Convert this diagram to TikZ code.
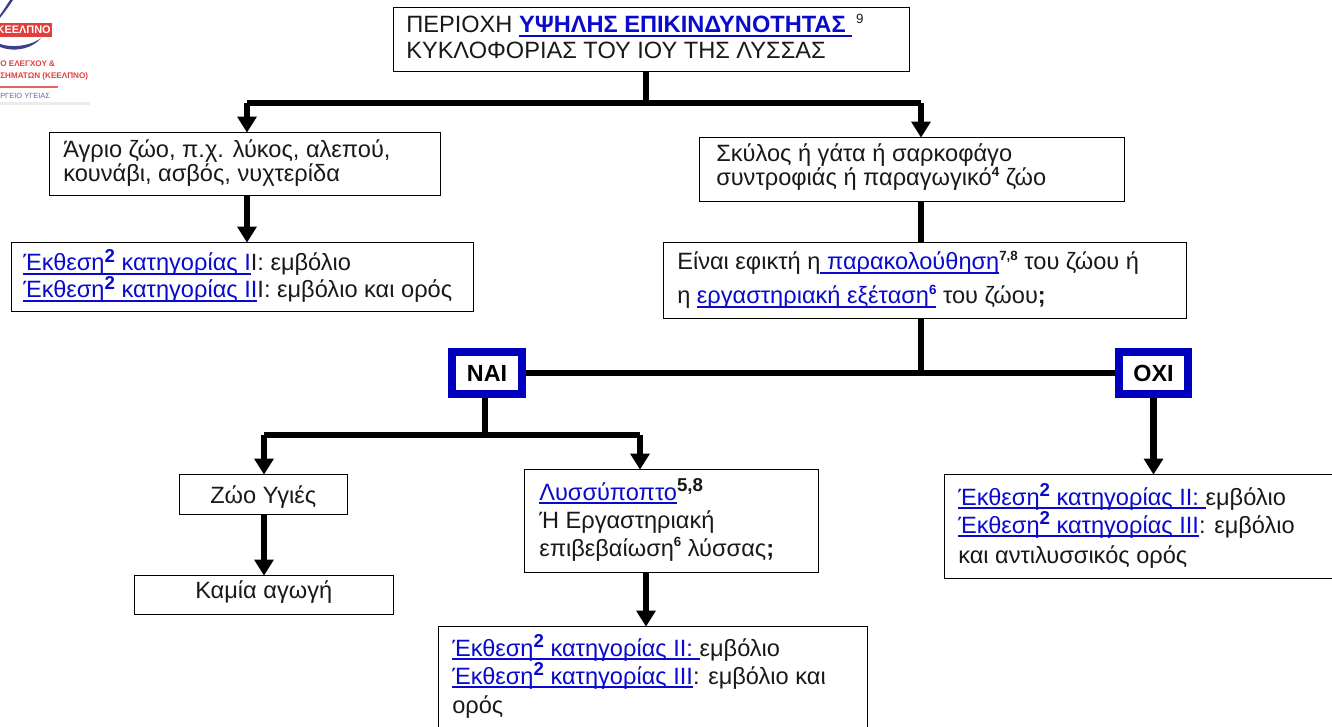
\documentclass[tikz,border=0pt]{standalone}
\usepackage{fontspec}
\setmainfont{Liberation Sans}
\usetikzlibrary{arrows.meta}
\definecolor{linkblue}{RGB}{10,10,205}
\definecolor{nblue}{RGB}{0,0,190}
\definecolor{logored}{RGB}{226,62,62}
\definecolor{logoblue}{RGB}{62,62,140}
\newsavebox\lnkbox
\newcommand\lnk[1]{\sbox\lnkbox{\color{linkblue}#1}\textcolor{linkblue}{\rlap{\rule[-3pt]{\wd\lnkbox}{1.2pt}}}\usebox\lnkbox}
\newcommand\sps[1]{\raisebox{0.42em}{\fontsize{10}{10}\selectfont\bfseries #1}}
\newcommand\spb[1]{\raisebox{0.36em}{\fontsize{14}{14}\selectfont\bfseries #1}}
\newcommand\spn[1]{\raisebox{0.42em}{\fontsize{10}{10}\selectfont #1}}
\tikzset{
  x=0.75pt,y=-0.75pt,
  boxn/.style={draw=black,line width=1pt,anchor=north west,inner sep=0pt,fill=white},
  answer/.style={draw=nblue,line width=6pt,fill=white,anchor=north west,inner sep=0pt,font=\fontsize{17.5}{20}\selectfont\bfseries,text=black},
  txt/.style={anchor=base west,inner sep=0pt,font=\fontsize{17.7}{20}\selectfont,text=black!90},
  conn/.style={line width=5.2pt,draw=black},
  arr/.style={conn,-{Triangle[length=12pt,width=14pt]},shorten >=-0.5pt},
  logot/.style={anchor=base west,inner sep=0pt,font=\fontsize{6.1}{7}\selectfont\bfseries,text=logored}
}
\begin{document}
\begin{tikzpicture}
\useasboundingbox (0,0) rectangle (1332,727);
\clip (0,0) rectangle (1332,727);
% logo
\fill[logored] (0,23) rectangle (52,37);
\node[anchor=east,inner sep=0pt,font=\fontsize{8.2}{9}\selectfont\bfseries,text=white] (logoname) at (51,30) {ΚΕΕΛΠΝΟ};
\fill[logoblue] (13,0) .. controls (8,8) and (3,14) .. (0,18) -- (0,15) .. controls (3,11) and (6,6) .. (10,0) -- cycle;
\fill[logoblue] (0,47) .. controls (16,53) and (33,48) .. (41,38) .. controls (34,44) and (16,49) .. (0,44) -- cycle;
\node[logot] (logoa) at (0,67) {Ο ΕΛΕΓΧΟΥ \&};
\node[logot] (logob) at (0,79) {ΣΗΜΑΤΩΝ (ΚΕΕΛΠΝΟ)};
\fill[logored!80] (0,86.5) rectangle (58,88);
\node[logot,text=logoblue!80,font=\fontsize{5.6}{7}\selectfont] (logoc) at (0,99) {ΡΓΕΙΟ ΥΓΕΙΑΣ};
\fill[black!8] (0,102) rectangle (90,105);
% coordinates
\coordinate (jt) at (646,103);
\coordinate (jl) at (247,103);
\coordinate (jr) at (921,103);
\coordinate (jm) at (921,374);
\coordinate (jn) at (485,435);
\coordinate (jna) at (264,435);
\coordinate (jnb) at (640,435);
\coordinate (sx) at (646,600);
% boxes
\node[boxn,minimum width=516*0.75pt,minimum height=64*0.75pt] (top) at (393,7) {};
\node[boxn,minimum width=391*0.75pt,minimum height=63*0.75pt] (wild) at (49,132) {};
\node[boxn,minimum width=425*0.75pt,minimum height=64*0.75pt] (pet) at (699,137) {};
\node[boxn,minimum width=462*0.75pt,minimum height=69*0.75pt] (wildexp) at (11,242) {};
\node[boxn,minimum width=523*0.75pt,minimum height=76*0.75pt] (check) at (663,242) {};
\node[boxn,minimum width=168*0.75pt,minimum height=40*0.75pt] (healthy) at (179,474) {};
\node[boxn,minimum width=259*0.75pt,minimum height=39*0.75pt] (none) at (134,575) {};
\node[boxn,minimum width=294*0.75pt,minimum height=103*0.75pt] (susp) at (524,469) {};
\node[boxn,minimum width=429*0.75pt,minimum height=110*0.75pt] (suspexp) at (438,626) {};
\node[boxn,minimum width=400*0.75pt,minimum height=104*0.75pt] (noexp) at (944,474) {};
% connectors
\draw[conn] (top.south -| jt) -- (jt);
\draw[conn] (jl) -- (jr);
\draw[arr] (jl) -- (wild.north -| jl);
\draw[arr] (jr) -- (pet.north -| jr);
\draw[arr] (wild.south -| jl) -- (wildexp.north -| jl);
\draw[conn] (pet.south -| jr) -- (check.north -| jr);
\draw[conn] (check.south -| jm) -- (jm);
\node[answer,minimum width=70*0.75pt,minimum height=42*0.75pt] (yes) at (448,348) {NAI};
\node[answer,minimum width=69*0.75pt,minimum height=42*0.75pt] (no) at (1115,348) {OXI};
\draw[conn] (yes.east) -- (no.west);
\draw[conn] (yes.south -| jn) -- (jn);
\draw[conn] (jna) -- (jnb);
\draw[arr] (jna) -- (healthy.north -| jna);
\draw[arr] (jnb) -- (susp.north -| jnb);
\draw[arr] (healthy.south -| jna) -- (none.north -| jna);
\draw[arr] (susp.south -| sx) -- (suspexp.north -| sx);
\draw[arr] (no.south) -- (noexp.north -| no.south);
% texts
\node[txt] (t1) at (406,33) {ΠΕΡΙΟΧΗ \lnk{\bfseries ΥΨΗΛΗΣ ΕΠΙΚΙΝΔΥΝΟΤΗΤΑΣ }\,\spn{9}};
\node[txt] (t2) at (406,59) {ΚΥΚΛΟΦΟΡΙΑΣ ΤΟΥ ΙΟΥ ΤΗΣ ΛΥΣΣΑΣ};
\node[txt] (w1) at (63,158) {Άγριο ζώο, π.χ. λύκος, αλεπού,};
\node[txt] (w2) at (63,182) {κουνάβι, ασβός, νυχτερίδα};
\node[txt] (p1) at (716,162) {Σκύλος ή γάτα ή σαρκοφάγο};
\node[txt] (p2) at (716,186) {συντροφιάς ή παραγωγικό\sps{4} ζώο};
\node[txt] (e1) at (23,271) {\lnk{Έκθεση\spb{2} κατηγορίας I}I: εμβόλιο};
\node[txt] (e2) at (23,298) {\lnk{Έκθεση\spb{2} κατηγορίας II}I: εμβόλιο και ορός};
\node[txt] (c1) at (677,270) {Είναι εφικτή η\lnk{\ παρακολούθηση}\sps{7,8} του ζώου ή};
\node[txt] (c2) at (677,304) {η \lnk{εργαστηριακή εξέταση\sps{6}} του ζώου\textbf{;}};
\node[txt] (h1) at (210,503) {Ζώο Υγιές};
\node[txt] (n1) at (195,598) {Καμία αγωγή};
\node[txt] (s1) at (539,500) {\lnk{Λυσσύποπτο}\spb{5,8}};
\node[txt] (s2) at (539,528) {Ή Εργαστηριακή};
\node[txt] (s3) at (539,556) {επιβεβαίωση\sps{6} λύσσας\textbf{;}};
\node[txt] (b1) at (452,656) {\lnk{Έκθεση\spb{2} κατηγορίας II: }εμβόλιο};
\node[txt] (b2) at (452,684) {\lnk{Έκθεση\spb{2} κατηγορίας III}: εμβόλιο και};
\node[txt] (b3) at (452,713) {ορός};
\node[txt] (o1) at (958,505) {\lnk{Έκθεση\spb{2} κατηγορίας II: }εμβόλιο};
\node[txt] (o2) at (958,533) {\lnk{Έκθεση\spb{2} κατηγορίας III}: εμβόλιο};
\node[txt] (o3) at (958,563) {και αντιλυσσικός ορός};
\end{tikzpicture}
\end{document}
